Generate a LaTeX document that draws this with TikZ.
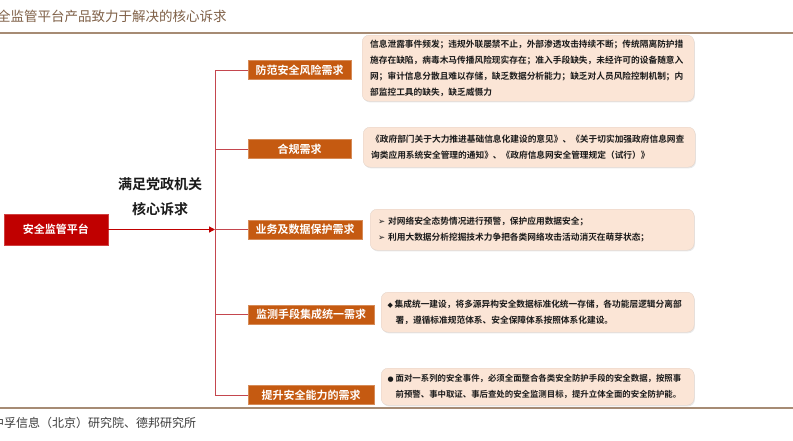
\documentclass[tikz,border=0pt]{standalone}
\usepackage{fontspec}
\setmainfont{Noto Sans CJK SC}[BoldFont={Noto Sans CJK SC Bold}]
\newfontfamily\symfont{DejaVu Sans}
\usetikzlibrary{arrows.meta,positioning,shadows}
\definecolor{crimson}{HTML}{C00000}
\definecolor{rosered}{HTML}{C4464E}
\definecolor{rust}{HTML}{C55A11}
\definecolor{peach}{HTML}{FBE5D6}
\definecolor{umber}{HTML}{7F6047}
\definecolor{rulebrown}{HTML}{A68B74}
\definecolor{ink}{HTML}{1A1A1A}
\newcommand{\pointer}{\makebox[10pt][l]{\symfont\fontsize{8.5}{8}\selectfont ➢}}
\newcommand{\diamondmark}{\makebox[7pt][l]{\symfont\fontsize{7}{7}\selectfont ◆}}
\newcommand{\dotmark}{\makebox[8pt][l]{\symfont\fontsize{7}{7}\selectfont ●}}
\tikzset{
  platformbox/.style={
    draw=crimson!75!white,
    fill=crimson,
    text=white,
    minimum width=104pt,
    minimum height=31pt,
    inner sep=0pt,
    font=\fontsize{11}{13}\selectfont\bfseries
  },
  needbox/.style={
    draw=rust!70!white,
    line width=0.4pt,
    fill=rust,
    text=white,
    anchor=west,
    minimum height=19pt,
    inner sep=0pt,
    font=\fontsize{11}{13}\selectfont\bfseries
  },
  notebox/.style={
    draw=peach!80!gray,
    line width=0.3pt,
    fill=peach,
    rounded corners=7pt,
    drop shadow={opacity=0.18,shadow xshift=0.8pt,shadow yshift=-1.2pt},
    anchor=north west,
    align=left,
    inner xsep=8pt,
    inner ysep=0pt,
    text=ink,
    font=\fontsize{8.7}{16}\selectfont\bfseries
  },
  mainarrow/.style={-{Triangle[length=6pt,width=6pt]},line width=1.3pt,draw=crimson},
  branchline/.style={line width=0.9pt,draw=rosered},
  pagerule/.style={line width=1.3pt,draw=rulebrown}
}
\begin{document}
\begin{tikzpicture}[x=1pt,y=-1pt]
\useasboundingbox (0,0) rectangle (793,440);
% heading and source
\node[anchor=west,inner sep=0pt,text=umber,font=\fontsize{13.5}{16}\selectfont] (heading) at (-3,16) {全监管平台产品致力于解决的核心诉求};
\draw[pagerule] (0,33) -- (793,33);
\draw[pagerule] (0,408) -- (793,408);
\node[anchor=west,inner sep=0pt,text=ink!85,font=\fontsize{12}{14}\selectfont] (source) at (-8,423) {中孚信息（北京）研究院、德邦研究所};

% left side
\node[platformbox] (platform) at (56,229.5) {安全监管平台};
\node[align=center,text=ink,font=\fontsize{14}{25}\selectfont\bfseries] (aim) at (160,197) {满足党政机关\\核心诉求};
\coordinate (hub) at (215,229.5);

% demands
\node[needbox,minimum width=103pt] (risk) at (248,70) {防范安全风险需求};
\node[needbox,minimum width=103pt] (comply) at (248,149) {合规需求};
\node[needbox,minimum width=114pt] (protect) at (248,229.5) {业务及数据保护需求};
\node[needbox,minimum width=126pt] (monitor) at (248,314.5) {监测手段集成统一需求};
\node[needbox,minimum width=126pt] (ability) at (248,395) {提升安全能力的需求};

% notes
\node[notebox,minimum width=332pt,minimum height=66pt,text width=316pt] (risknote) at (362,35) {信息泄露事件频发；违规外联屡禁不止，外部渗透攻击持续不断；传统隔离防护措\\施存在缺陷，病毒木马传播风险现实存在；准入手段缺失，未经许可的设备随意入\\网；审计信息分散且难以存储，缺乏数据分析能力；缺乏对人员风险控制机制；内\\部监控工具的缺失，缺乏威慑力};
\node[notebox,minimum width=331pt,minimum height=40pt,text width=316pt] (complynote) at (363,127) {《政府部门关于大力推进基础信息化建设的意见》、《关于切实加强政府信息网查\\询类应用系统安全管理的通知》、《政府信息网安全管理规定（试行）》};
\node[notebox,minimum width=324pt,minimum height=41pt,text width=308pt] (protectnote) at (370,209) {\pointer 对网络安全态势情况进行预警，保护应用数据安全；\\\pointer 利用大数据分析挖掘技术力争把各类网络攻击活动消灭在萌芽状态；};
\node[notebox,minimum width=313pt,minimum height=40pt,text width=300pt,inner xsep=6.5pt,xshift=4pt] (monitornote) at (377,292) {\diamondmark 集成统一建设，将多源异构安全数据标准化统一存储，各功能层逻辑分离部\\\hspace*{8pt}署，遵循标准规范体系、安全保障体系按照体系化建设。};
\node[notebox,minimum width=313pt,minimum height=37pt,text width=300pt,inner xsep=6.5pt,xshift=4pt,font=\fontsize{8.4}{16}\selectfont\bfseries] (abilitynote) at (377,368) {\dotmark 面对一系列的安全事件，必须全面整合各类安全防护手段的安全数据，按照事\\\hspace*{8pt}前预警、事中取证、事后查处的安全监测目标，提升立体全面的安全防护能。};

% connectors
\draw[branchline] (hub) |- (risk.west);
\draw[branchline] (hub) |- (comply.west);
\draw[branchline] (hub) -- (protect.west);
\draw[branchline] (hub) |- (monitor.west);
\draw[branchline] (hub) |- (ability.west);
\draw[mainarrow] (platform) -- (hub);
\end{tikzpicture}
\end{document}
